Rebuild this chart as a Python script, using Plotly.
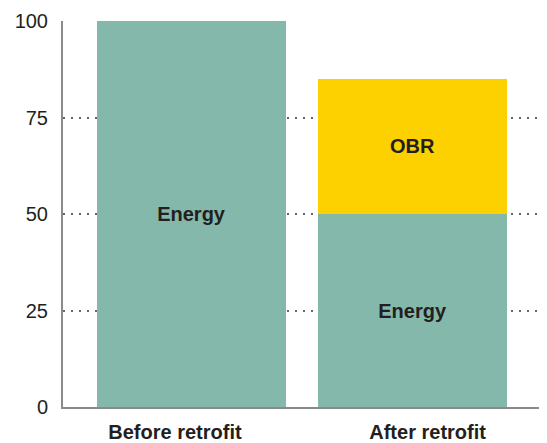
import plotly.graph_objects as go

categories = ["Before retrofit", "After retrofit"]
energy = [100, 50]
obr = [None, 35]
energy_labels = ["Energy", "Energy"]
obr_labels = ["", "OBR"]
y_ticks = [0, 25, 50, 75, 100]
grid_vals = [25, 50, 75]
# category label anchor positions (labels sit slightly off the bar centres)
label_pos = [-0.075, 1.068]

TEAL = "#84b8aa"
YELLOW = "#fdd000"
TXT = "#231f20"
FONT = "Liberation Sans, Arial, Helvetica, sans-serif"
FS = 20

fig = go.Figure()
fig.add_trace(go.Bar(
    x=[0, 1], y=energy, marker=dict(color=TEAL, line=dict(width=0)),
    width=0.855, text=energy_labels, textposition="inside",
    insidetextanchor="middle",
    textfont=dict(family=FONT, size=FS, color=TXT, weight="bold"),
    hoverinfo="skip",
))
fig.add_trace(go.Bar(
    x=[0, 1], y=obr, marker=dict(color=YELLOW, line=dict(width=0)),
    width=0.855, text=obr_labels, textposition="inside",
    insidetextanchor="middle",
    textfont=dict(family=FONT, size=FS, color=TXT, weight="bold"),
    hoverinfo="skip",
))

# page body has an 8px default margin, so the figure is offset by 8px
fig.update_layout(
    barmode="stack",
    width=539, height=435,
    margin=dict(l=55, r=8, t=13, b=36),
    paper_bgcolor="white", plot_bgcolor="white",
    showlegend=False,
    font=dict(family=FONT, size=FS, color=TXT),
)
fig.update_xaxes(
    range=[-0.5814, 1.572], automargin=False,
    tickvals=label_pos, ticktext=[f"<b>{c}</b>" for c in categories],
    showgrid=False, zeroline=False,
    showline=True, linecolor="#8a8a8a", linewidth=2,
    ticks="", ticklabelstandoff=6,
    tickfont=dict(family=FONT, size=FS, color=TXT),
)
fig.update_yaxes(
    range=[0, 100], tickvals=y_ticks, automargin=False,
    showgrid=False, zeroline=False,
    showline=True, linecolor="#8a8a8a", linewidth=2,
    ticks="", ticklabelstandoff=9,
    tickfont=dict(family=FONT, size=FS, color=TXT),
    minor=dict(tickvals=grid_vals, showgrid=True, gridcolor="#666666",
               griddash="2px,6px", gridwidth=2, ticks=""),
)

fig.write_html("out.html")
